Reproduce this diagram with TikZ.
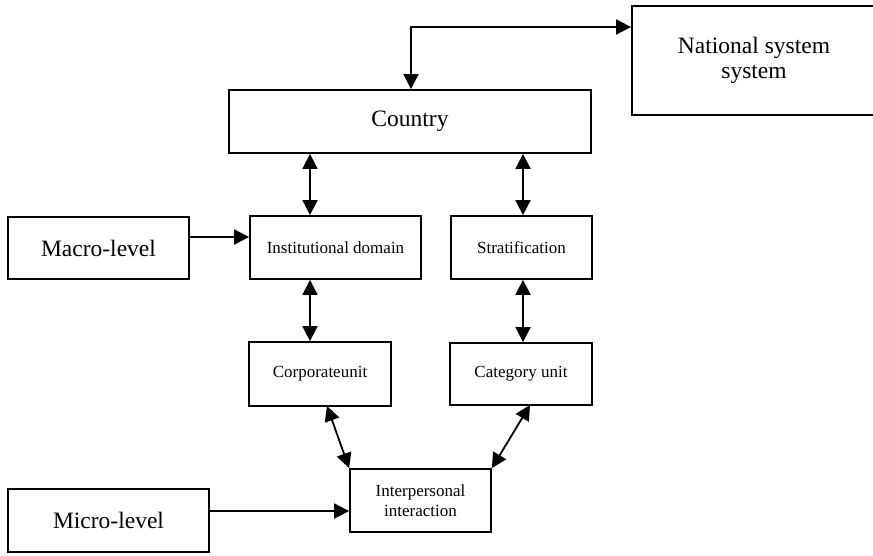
\documentclass[tikz,border=0pt]{standalone}
\usepackage{fontspec}
\setmainfont{Liberation Serif}
\usetikzlibrary{arrows.meta}
\begin{document}
\begin{tikzpicture}[x=1pt,y=-1pt,
  box/.style={draw,line width=1.8pt,rectangle,inner sep=0pt,align=center},
  bigtxt/.style={font=\fontsize{23.5}{25.5}\selectfont},
  smalltxt/.style={font=\fontsize{17}{20}\selectfont},
  conn/.style={line width=1.8pt,{Triangle[length=15pt,width=15pt]}-{Triangle[length=15pt,width=15pt]}},
  oneway/.style={line width=1.8pt,-{Triangle[length=15pt,width=15pt]}}]
\useasboundingbox (0,0) rectangle (873,555);
\node[box,bigtxt,minimum width=244pt,minimum height=109pt] (nat) at (754,60.5) {National system\\system};
\node[box,bigtxt,minimum width=362pt,minimum height=63pt] (country) at (410,121.5) {Country};
\node[box,bigtxt,minimum width=181pt,minimum height=62pt] (macro) at (98.5,248) {Macro-level};
\node[box,smalltxt,minimum width=171pt,minimum height=63pt] (inst) at (335.5,247.5) {Institutional domain};
\node[box,smalltxt,minimum width=141pt,minimum height=63pt] (strat) at (521.5,247.5) {Stratification};
\node[box,smalltxt,minimum width=142pt,minimum height=64pt] (corp) at (320,374) {Corporateunit};
\node[box,smalltxt,minimum width=142pt,minimum height=62pt] (cat) at (521,374) {Category unit};
\node[box,smalltxt,minimum width=141pt,minimum height=63pt] (inter) at (420.5,500.5) {Interpersonal\\interaction};
\node[box,bigtxt,minimum width=201pt,minimum height=63pt] (micro) at (108.5,520.5) {Micro-level};
\coordinate (corner) at (411,27);
\coordinate (xl) at (310,0);
\coordinate (xr) at (523,0);
\coordinate (ym) at (0,237);
\coordinate (yu) at (0,511);
\draw[conn] (country.north -| corner) -- (corner) -- (nat.west |- corner);
\draw[conn] (country.south -| xl) -- (inst.north -| xl);
\draw[conn] (country.south -| xr) -- (strat.north -| xr);
\draw[conn] (inst.south -| xl) -- (corp.north -| xl);
\draw[conn] (strat.south -| xr) -- (cat.north -| xr);
\draw[oneway] (macro.east |- ym) -- (inst.west |- ym);
\draw[oneway] (micro.east |- yu) -- (inter.west |- yu);
\coordinate (cb) at (327,406);
\coordinate (kb) at (530,405);
\draw[conn] (cb) -- (inter.north west);
\draw[conn] (kb) -- (inter.north east);
\end{tikzpicture}
\end{document}
